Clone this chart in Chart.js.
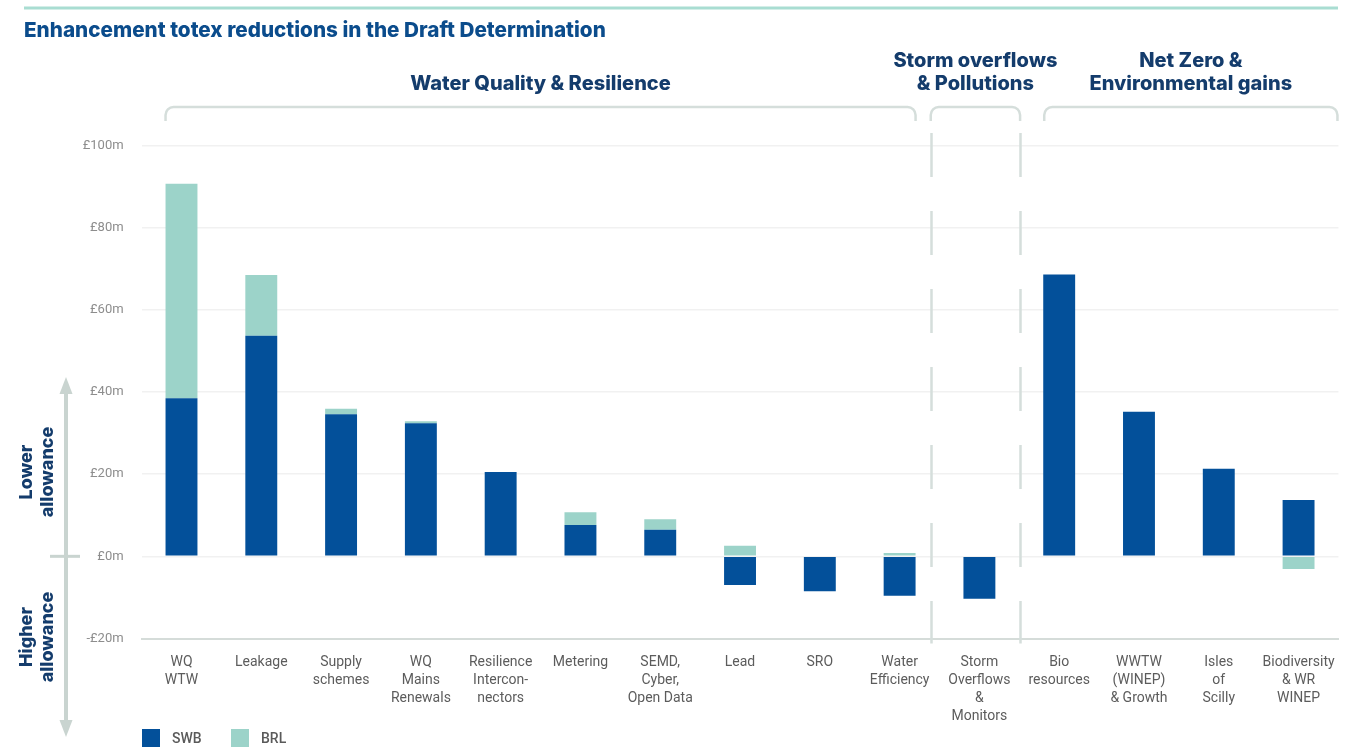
<!DOCTYPE html>
<html><head><meta charset="utf-8">
<script src="https://cdn.jsdelivr.net/npm/chart.js@4.4.1/dist/chart.umd.min.js"></script>
<style>html,body{margin:0;padding:0;background:#fff;overflow:hidden} #wrap{width:1350px;height:749px;position:relative}</style>
</head><body><div id="wrap"><canvas id="c" width="1350" height="749"></canvas></div>
<script>
const categories = [["WQ","WTW"],["Leakage"],["Supply","schemes"],["WQ","Mains","Renewals"],["Resilience","Intercon-","nectors"],["Metering"],["SEMD,","Cyber,","Open Data"],["Lead"],["SRO"],["Water","Efficiency"],["Storm","Overflows","&","Monitors"],["Bio","resources"],["WWTW","(WINEP)","& Growth"],["Isles","of","Scilly"],["Biodiversity","& WR","WINEP"]];
const swbValues = [38.5, 53.7, 34.6, 32.4, 20.5, 7.6, 6.5, -7.0, -8.5, -9.6, -10.3, 68.6, 35.2, 21.3, 13.7];
const brlValues = [52.2, 14.8, 1.3, 0.5, 0, 3.1, 2.5, 2.6, 0, 0.8, 0, 0, 0, 0, -3.1];
const seriesNames = ["SWB", "BRL"];
const seriesColors = ["#03509a", "#9cd3c9"];
const yTickValues = [-20, 0, 20, 40, 60, 80, 100];
const chartTitle = "Enhancement totex reductions in the Draft Determination";
const groupNames = [["Water Quality & Resilience"], ["Storm overflows", "& Pollutions"], ["Net Zero &", "Environmental gains"]];
const groupFirst = [0, 10, 11];
const groupLast = [9, 10, 14];
const sideLabels = [["Lower", "allowance"], ["Higher", "allowance"]];

const NAVY = "#143c6c";
const LINE = "#d5dedb";

const decor = {
  id: "decor",
  beforeDatasetsDraw(chart) {
    const ctx = chart.ctx, x = chart.scales.x, ca = chart.chartArea;
    ctx.save();
    ctx.strokeStyle = LINE; ctx.lineWidth = 2.5;
    ctx.setLineDash([44, 34]);
    [9.39, 10.51].forEach(v => {
      const px = Math.round(x.getPixelForValue(v)) + 0.5;
      ctx.beginPath(); ctx.moveTo(px, 133); ctx.lineTo(px, ca.bottom + 5); ctx.stroke();
    });
    ctx.restore();
  },
  afterDraw(chart) {
    const ctx = chart.ctx, x = chart.scales.x, y = chart.scales.y, ca = chart.chartArea;
    const half = (x.getPixelForValue(1) - x.getPixelForValue(0)) * 0.2;
    ctx.save();
    // top rule
    ctx.fillStyle = "#a9ddd2";
    ctx.fillRect(24, 6.5, 1314, 3);
    // title
    ctx.fillStyle = "#0b4c8c";
    ctx.font = "800 20.7px Inter";
    ctx.textBaseline = "middle"; ctx.textAlign = "left";
    ctx.fillText(chartTitle, 24, 31);
    // groups
    const sepL = x.getPixelForValue(9.39), sepR = x.getPixelForValue(10.51);
    const spans = [
      [x.getPixelForValue(groupFirst[0]) - half, x.getPixelForValue(groupLast[0]) + half],
      [sepL, sepR],
      [x.getPixelForValue(groupFirst[2]) - half + 1, ca.right - 1]
    ];
    ctx.strokeStyle = LINE; ctx.lineWidth = 2.5;
    spans.forEach((s, i) => {
      const [l, r] = s, t = 107, b = 121, rad = 8;
      ctx.beginPath();
      ctx.moveTo(l, b); ctx.lineTo(l, t + rad);
      ctx.arcTo(l, t, l + rad, t, rad);
      ctx.lineTo(r - rad, t);
      ctx.arcTo(r, t, r, t + rad, rad);
      ctx.lineTo(r, b);
      ctx.stroke();
      ctx.fillStyle = NAVY; ctx.font = "800 20px Inter"; ctx.textAlign = "center";
      const lines = groupNames[i];
      lines.forEach((ln, k) => {
        ctx.fillText(ln, (l + r) / 2, 84 - (lines.length - 1 - k) * 23);
      });
    });
    // left arrow
    const zero = y.getPixelForValue(0);
    ctx.fillStyle = "#c9d4d0"; ctx.strokeStyle = "#c9d4d0";
    ctx.fillRect(64, 390, 4, 334);
    ctx.beginPath(); ctx.moveTo(66, 377); ctx.lineTo(72.5, 394); ctx.lineTo(59.5, 394); ctx.closePath(); ctx.fill();
    ctx.beginPath(); ctx.moveTo(66, 737); ctx.lineTo(72.5, 720); ctx.lineTo(59.5, 720); ctx.closePath(); ctx.fill();
    ctx.fillRect(50, zero - 1.5, 30, 3);
    // side labels
    ctx.fillStyle = NAVY; ctx.font = "800 18px Inter";
    [[472, sideLabels[0]], [637, sideLabels[1]]].forEach(([cy, lines]) => {
      ctx.save(); ctx.translate(37, cy); ctx.rotate(-Math.PI / 2);
      ctx.textAlign = "center"; ctx.textBaseline = "middle";
      ctx.fillText(lines[0], 0, -10.5); ctx.fillText(lines[1], 0, 10.5);
      ctx.restore();
    });
    // legend
    ctx.font = "500 14px Roboto"; ctx.textAlign = "left"; ctx.textBaseline = "middle";
    let lx = 142;
    chart.data.datasets.forEach(ds => {
      ctx.fillStyle = ds.backgroundColor; ctx.fillRect(lx, 729, 18, 18);
      ctx.fillStyle = "#5a5a5a"; ctx.fillText(ds.label, lx + 30, 739);
      lx += 89;
    });
    ctx.restore();
  }
};

new Chart(document.getElementById("c"), {
  type: "bar",
  data: {
    labels: categories,
    datasets: [
      { label: seriesNames[0], data: swbValues, backgroundColor: seriesColors[0], barPercentage: 0.8, categoryPercentage: 0.5 },
      { label: seriesNames[1], data: brlValues, backgroundColor: seriesColors[1], barPercentage: 0.8, categoryPercentage: 0.5 }
    ]
  },
  options: {
    responsive: false, animation: false, devicePixelRatio: 1,
    layout: { padding: { top: 145.5, right: 11.5, bottom: 0, left: 0 } },
    plugins: { legend: { display: false }, tooltip: { enabled: false } },
    scales: {
      x: {
        stacked: true,
        grid: { display: false, drawTicks: false },
        border: { display: true, color: "#d5dcd9", width: 2 },
        ticks: { autoSkip: false, maxRotation: 0, minRotation: 0, padding: 15, color: "#5c5c5c",
          font: { family: "Roboto", size: 14, lineHeight: 1.29 } },
        afterFit(s) { s.height = 110.5; }
      },
      y: {
        stacked: true, min: -20, max: 100,
        afterBuildTicks(s) { s.ticks = yTickValues.map(v => ({ value: v })); },
        grid: { color: "#f1f1f1", lineWidth: 1.5, drawTicks: false },
        border: { display: false },
        ticks: { padding: 18, color: "#8d8d8d", font: { family: "Roboto", size: 13 },
          callback: v => (v < 0 ? "-£" + Math.abs(v) : "£" + v) + "m" },
        afterFit(s) { s.width = 141.6; }
      }
    }
  },
  plugins: [decor]
});
</script>
</body></html>
